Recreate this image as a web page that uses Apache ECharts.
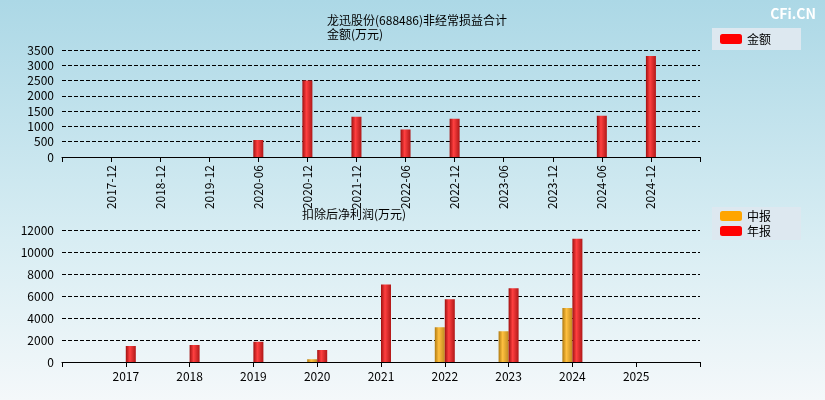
<!DOCTYPE html><html><head><meta charset="utf-8">
<script src="https://cdn.jsdelivr.net/npm/echarts@6/dist/echarts.min.js"></script>
<style>body{margin:0}#c{width:825px;height:400px;background:linear-gradient(#acd8e6,#d8edf3 60%,#f4f8fa)}</style></head><body><div id="c"></div>
<script>
const topCats=['2017-12','2018-12','2019-12','2020-06','2020-12','2021-12','2022-06','2022-12','2023-06','2023-12','2024-06','2024-12'];
const topVals=[0,0,0,560,2500,1320,900,1250,0,0,1350,3300];
const botCats=['2017','2018','2019','2020','2021','2022','2023','2024','2025'];
const midVals=[null,null,null,250,null,3150,2800,4900,null];
const annVals=[1450,1550,1850,1100,7050,5700,6700,11200,null];
const pad=a=>['',...a,' '];
const padV=a=>[null,...a,null];
const red={type:'linear',x:0,y:0,x2:1,y2:0,colorStops:[{offset:0,color:'#a01010'},{offset:0.4,color:'#ff4040'},{offset:1,color:'#b01818'}]};
const ora={type:'linear',x:0,y:0,x2:1,y2:0,colorStops:[{offset:0,color:'#b07a10'},{offset:0.4,color:'#ffc040'},{offset:1,color:'#c08a20'}]};
const font='"Noto Sans CJK SC", sans-serif';
const ax={axisLine:{lineStyle:{color:'#000'}},axisTick:{lineStyle:{color:'#000'}},axisLabel:{color:'#000',fontSize:12,fontFamily:font}};
const c=echarts.init(document.getElementById('c'));
c.setOption({
 textStyle:{fontFamily:font},
 title:[{text:'龙迅股份(688486)非经常损益合计',left:322,top:9,textStyle:{fontSize:12,fontWeight:'normal',color:'#000'}},
  {text:'金额(万元)',left:322,top:23,textStyle:{fontSize:12,fontWeight:'normal',color:'#000'}},
  {text:'扣除后净利润(万元)',left:297,top:203,textStyle:{fontSize:12,fontWeight:'normal',color:'#000'}},
  {text:'CFi.CN',right:4,top:2,textStyle:{fontSize:14,color:'#fff',fontWeight:'bold'}}],
 legend:[{data:[{name:'金额',itemStyle:{color:'#f00'}}],left:712,top:28,itemWidth:22,itemHeight:10,backgroundColor:'#dde8f0',padding:[5,30,5,8],textStyle:{fontSize:12,color:'#000'}},
  {data:[{name:'中报',itemStyle:{color:'#ffa500'}},{name:'年报',itemStyle:{color:'#f00'}}],orient:'vertical',left:712,top:207,itemWidth:22,itemHeight:10,itemGap:3,backgroundColor:'#dde8f0',padding:[3,30,3,8],textStyle:{fontSize:12,color:'#000'}}],
 grid:[{left:62,top:50,width:638,height:107},{left:62,top:230,width:638,height:132}],
 xAxis:[{gridIndex:0,type:'category',boundaryGap:false,data:pad(topCats),...ax,axisLabel:{...ax.axisLabel,rotate:90,interval:0}},
  {gridIndex:1,type:'category',boundaryGap:false,data:pad(botCats),...ax,axisLabel:{...ax.axisLabel,interval:0}}],
 yAxis:[{gridIndex:0,min:0,max:3500,interval:500,...ax,axisLabel:{...ax.axisLabel,formatter:v=>String(v)},splitLine:{lineStyle:{color:'#000',type:'dashed'}}},
  {gridIndex:1,min:0,max:12000,interval:2000,...ax,axisLabel:{...ax.axisLabel,formatter:v=>String(v)},splitLine:{lineStyle:{color:'#000',type:'dashed'}}}],
 series:[{name:'金额',type:'bar',data:padV(topVals),barWidth:10,itemStyle:{color:red}},
  {name:'中报',type:'bar',xAxisIndex:1,yAxisIndex:1,data:padV(midVals),barWidth:10,barGap:'0%',itemStyle:{color:ora}},
  {name:'年报',type:'bar',xAxisIndex:1,yAxisIndex:1,data:padV(annVals),barWidth:10,itemStyle:{color:red}}]
});
</script></body></html>
